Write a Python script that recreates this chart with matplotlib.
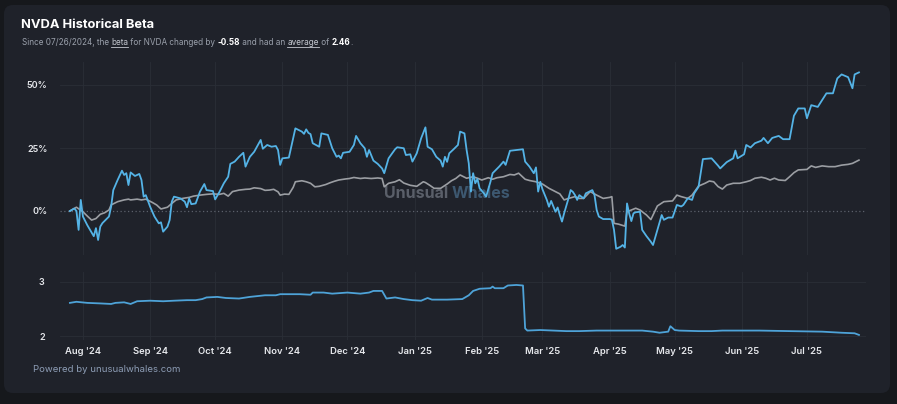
import matplotlib
matplotlib.use("Agg")
import matplotlib.pyplot as plt
import matplotlib.dates as mdates
import pandas as pd
from matplotlib.patches import FancyBboxPatch

# ---------------- data ----------------
START = "2024-07-26"   # day offsets below are calendar days from this date

nvda_day = [0, 2, 3, 4, 5, 6, 8, 11, 12, 13, 14, 15, 18, 19, 20, 22, 24, 25, 26, 27,
            28, 30, 32, 33, 34, 35, 37, 39, 41, 42, 43, 45, 46, 47, 48, 51, 53, 54, 55, 56,
            58, 60, 62, 63, 66, 67, 69, 71, 73, 74, 76, 78, 80, 81, 83, 85, 88, 89, 91, 93,
            95, 96, 97, 98, 101, 104, 107, 108, 109, 110, 111, 112, 115, 116, 117, 119, 121, 123, 124, 125,
            126, 129, 131, 132, 134, 136, 137, 138, 140, 142, 144, 145, 147, 150, 151, 154, 155, 157, 158, 160,
            162, 164, 165, 167, 169, 171, 172, 173, 174, 175, 177, 179, 180, 182, 183, 184, 185, 186, 187, 188,
            189, 191, 192, 194, 195, 198, 200, 201, 203, 206, 209, 210, 212, 214, 215, 216, 217, 218, 220, 221,
            222, 224, 225, 226, 227, 228, 230, 231, 232, 233, 234, 235, 237, 238, 241, 242, 243, 244, 246, 249,
            250, 251, 252, 254, 255, 256, 257, 258, 259, 260, 261, 263, 264, 266, 268, 269, 271, 273, 274, 276,
            278, 280, 282, 283, 285, 287, 288, 290, 292, 296, 299, 300, 303, 306, 307, 308, 311, 312, 314, 316,
            319, 320, 322, 324, 327, 329, 332, 334, 336, 339, 340, 342, 345, 349, 352, 354, 356, 359, 361, 362,
            364]
nvda_ret = [0, 1.0, 0, -7.5, 4.4, -2.2, -5.6, -10, -6.8, -11.5, -6.2, -4.8, -2.2, 1.7, 8.3, 12.3, 16, 14.3, 15, 10.3,
            15.3, 13.9, 14.7, 12.3, 5.7, 6.3, 1.7, -2.2, -4.9, -4.5, -8.2, -6.2, -3.6, 3.7, 5.7, 5, 3.7, 1.5, 5, 2.7,
            3, 7.7, 10.7, 8.3, 7.9, 4.6, 7.6, 11, 13.6, 18.7, 19.6, 21.5, 23.1, 17.6, 21.5, 23.5, 28.2, 24.7, 26.2, 25.5,
            25.8, 24.2, 18.3, 20.9, 21.2, 32.8, 31.5, 30.6, 32.4, 31, 30.5, 26.9, 25.5, 30.8, 30.6, 30.2, 24.9, 21.5, 22, 20.9,
            23.1, 23.5, 26.2, 29.8, 26.9, 24.9, 21.5, 24.2, 20, 18.7, 16.9, 15, 20.9, 24.5, 25.3, 24.9, 22.2, 22.5, 19.6, 22.9,
            28.8, 33.2, 25.5, 24.5, 21.5, 20, 17.6, 21.5, 19.5, 22.9, 24.5, 26.2, 31.5, 30.8, 24.2, 18.9, 7.7, 15, 11, 12.7,
            9, 7, 5.7, 11.6, 15, 17.6, 19.6, 18.3, 23.9, 24.2, 24.5, 19.6, 17.6, 15, 17.3, 7.7, 11.6, 8.6, 4.4, 1.7,
            4, -0.3, 1.4, -1.6, -4.2, -0.9, 5, 8.3, 7.6, 6.3, 4.4, 6.3, 5, 7, 8.3, 6.3, 0.4, -2.2, -3.2, -3.2,
            -3.4, -7.5, -15, -14.2, -13.5, -14.5, 3, -1, -4, -0.9, -0.5, -0.3, -7.5, -10, -12.2, -13.5, -7.5, -1.6, -3.5, -2.6,
            -2.6, 2.4, 1.8, 2.4, 5, 4.4, 7, 9.6, 20.6, 20.9, 18, 16.9, 19.4, 20.9, 24, 20.9, 22.5, 26.2, 25.2, 26.9,
            27.9, 29, 26.9, 29, 29.8, 28.5, 28.5, 37.8, 40.7, 40.7, 36.8, 42, 41.3, 46.7, 46.7, 52.6, 54.2, 53.1, 48.7, 54.2,
            55]

spy_day = [0, 3, 6, 8, 10, 12, 14, 16, 18, 19, 22, 25, 27, 28, 31, 33, 35, 38, 40, 42,
           45, 47, 49, 52, 55, 57, 60, 63, 66, 69, 71, 73, 75, 78, 81, 83, 85, 88, 90, 92,
           94, 96, 97, 99, 101, 103, 104, 107, 109, 111, 113, 115, 118, 120, 122, 124, 127, 129, 131, 134,
           136, 139, 142, 144, 145, 147, 150, 152, 154, 157, 160, 163, 164, 166, 168, 171, 174, 176, 178, 180,
           183, 186, 188, 190, 193, 195, 197, 200, 203, 205, 207, 210, 212, 215, 218, 221, 224, 226, 228, 230,
           233, 235, 237, 240, 243, 246, 249, 250, 251, 253, 256, 257, 259, 261, 263, 266, 268, 271, 274, 278,
           280, 282, 285, 287, 290, 293, 295, 297, 299, 301, 303, 306, 309, 312, 314, 316, 319, 321, 323, 325,
           327, 330, 332, 334, 336, 340, 342, 344, 347, 350, 353, 356, 359, 361, 364]
spy_ret = [0, 1.5, -0.3, -2, -3.6, -3, -1.3, -0.7, 0.4, 2.4, 3.7, 4.4, 4.7, 4.4, 4.7, 4.4, 4.7, 3.4, 2.4, 0.8,
           1.5, 3, 4.4, 5, 5.4, 5.9, 6.3, 6.6, 6.8, 6.6, 7, 5.9, 7.7, 8.3, 8.6, 8.7, 9.2, 8.9, 8.2, 8.3,
           8.6, 7.6, 6.3, 6.7, 6.6, 9.4, 11.6, 12, 11.6, 11, 9.6, 9.8, 10.5, 11.2, 11.8, 12.3, 12.7, 12.9, 13.3, 12.9,
           13.1, 12.9, 13.1, 12.9, 9.6, 11, 11.6, 12.4, 11.1, 10.2, 9.8, 11.6, 11.3, 10.2, 9, 9, 10.7, 12, 12.9, 14.3,
           13, 13.6, 13, 12.3, 13.2, 12.6, 13.2, 13.6, 14.5, 14.3, 15, 12.6, 12.1, 11.6, 10.7, 9, 7.7, 6.8, 4.4, 5,
           5.7, 5, 5, 7.7, 6.3, 5, 5.4, 5.7, -4.9, -5.2, -6, -0.3, 0.4, 1.1, 0.4, -1.6, -3.4, 2, 3.7, 4,
           6.3, 5.7, 5, 6.3, 9.9, 11, 11.9, 11.6, 9.7, 8.7, 10.3, 11, 11, 11.6, 12.1, 13, 13.4, 13, 12.3, 13,
           12.3, 12.1, 13.6, 15.2, 16.3, 16.5, 17.9, 17.3, 17.9, 17.6, 17.6, 18.2, 18.5, 18.9, 20.2]

beta_day = [0, 3, 8, 14, 19, 21, 25, 28, 31, 37, 43, 48, 54, 58, 61, 63, 68, 72, 78, 83,
            90, 95, 97, 106, 111, 112, 117, 121, 128, 134, 138, 140, 144, 146, 150, 154, 158, 162, 165, 167,
            174, 181, 184, 186, 189, 194, 195, 196, 200, 202, 206, 209, 210, 211, 217, 223, 229, 235, 243, 250,
            258, 264, 269, 272, 276, 277, 279, 281, 290, 296, 301, 312, 318, 332, 347, 356, 362, 364]
beta_val = [2.61, 2.63, 2.61, 2.60, 2.59, 2.61, 2.62, 2.59, 2.64, 2.65, 2.64, 2.65, 2.66, 2.66, 2.68, 2.71, 2.72, 2.70, 2.69, 2.72,
            2.75, 2.75, 2.77, 2.77, 2.76, 2.80, 2.80, 2.78, 2.80, 2.78, 2.80, 2.83, 2.83, 2.69, 2.71, 2.68, 2.66, 2.65, 2.70, 2.67,
            2.67, 2.68, 2.75, 2.83, 2.87, 2.88, 2.91, 2.88, 2.88, 2.93, 2.94, 2.93, 2.14, 2.10, 2.11, 2.10, 2.09, 2.09, 2.10, 2.10,
            2.10, 2.10, 2.08, 2.06, 2.08, 2.18, 2.11, 2.10, 2.09, 2.09, 2.10, 2.10, 2.10, 2.09, 2.08, 2.06, 2.05, 2.02]

month_ticks = ["2024-08-01", "2024-09-01", "2024-10-01", "2024-11-01", "2024-12-01", "2025-01-01",
               "2025-02-01", "2025-03-01", "2025-04-01", "2025-05-01", "2025-06-01", "2025-07-01"]
month_labels = ["Aug '24", "Sep '24", "Oct '24", "Nov '24", "Dec '24", "Jan '25",
                "Feb '25", "Mar '25", "Apr '25", "May '25", "Jun '25", "Jul '25"]
ret_ticks = [0, 25, 50]
ret_labels = ["0%", "25%", "50%"]
beta_ticks = [2, 3]
beta_labels = ["2", "3"]

title = "NVDA Historical Beta"
ticker = "NVDA"
start_label = "07/26/2024"
beta_change = "-0.58"
beta_avg = "2.46"
footer = "Powered by unusualwhales.com"

# ---------------- styling ----------------
W, H = 897, 404
OUTER = "#16181c"
CARD = "#1f222a"
GRID = "#2a2e37"
BLUE = "#54b3e6"
BETA_BLUE = "#4ea3d8"
GRAY = "#9b9ea3"
TICK = "#e6e8ec"
FONT = ["Inter", "DejaVu Sans"]

plt.rcParams["font.family"] = FONT

start = pd.Timestamp(START)
nvda_x = [start + pd.Timedelta(days=d) for d in nvda_day]
spy_x = [start + pd.Timedelta(days=d) for d in spy_day]
beta_x = [start + pd.Timedelta(days=d) for d in beta_day]
mt = pd.to_datetime(month_ticks)

fig = plt.figure(figsize=(W / 100, H / 100), dpi=100)
fig.patch.set_facecolor(OUTER)

bg = fig.add_axes([0, 0, 1, 1])
bg.set_xlim(0, W)
bg.set_ylim(H, 0)
bg.axis("off")
bg.set_zorder(0)
bg.add_patch(FancyBboxPatch((4, 5), 886, 388, boxstyle="round,pad=0,rounding_size=9",
                            facecolor=CARD, edgecolor="none"))

xl = (mdates.date2num(pd.Timestamp("2024-07-21 10:00")), mdates.date2num(pd.Timestamp("2025-07-28 06:00")))

def frac(px_left, px_top, px_right, px_bottom):
    return [px_left / W, 1 - px_bottom / H, (px_right - px_left) / W, (px_bottom - px_top) / H]

ax = fig.add_axes(frac(60, 62, 866, 255))
axb = fig.add_axes(frac(60, 272, 866, 340), sharex=ax)
for a in (ax, axb):
    a.set_facecolor("none")
    a.set_zorder(2)
    for s in a.spines.values():
        s.set_visible(False)
    a.tick_params(length=0)
    for m in mt:
        a.axvline(m, color=GRID, lw=0.6, zorder=0)

# --- returns chart
ax.set_xlim(*xl)
ax.set_ylim((211 - 255) / 2.52, (211 - 62) / 2.52)
for v in ret_ticks[1:]:
    ax.axhline(v, color=GRID, lw=0.6, zorder=0)
ax.axhline(0, color="#5c616b", lw=0.9, ls=(0, (1, 2)), zorder=1)
ax.plot(spy_x, spy_ret, color=GRAY, lw=1.2, zorder=3)
ax.plot(nvda_x, nvda_ret, color=BLUE, lw=1.3, zorder=4)
ax.set_yticks(ret_ticks)
ax.set_yticklabels(ret_labels)
ax.tick_params(axis="y", colors=TICK, labelsize=6.5, pad=9)
ax.tick_params(axis="x", labelbottom=False)
for t in ax.get_yticklabels():
    t.set_fontweight("semibold")

# --- beta chart
axb.set_ylim(2 + (336 - 340) / 54.3, 2 + (336 - 272) / 54.3)
for v in beta_ticks:
    axb.axhline(v, color=GRID, lw=0.6, zorder=0)
axb.plot(beta_x, beta_val, color=BETA_BLUE, lw=1.3, zorder=4)
axb.set_yticks(beta_ticks)
axb.set_yticklabels(beta_labels)
axb.set_xticks(mt)
axb.set_xticklabels(month_labels)
axb.tick_params(axis="y", colors=TICK, labelsize=6.5, pad=11)
axb.tick_params(axis="x", colors=TICK, labelsize=6.8, pad=5)
for t in axb.get_yticklabels() + axb.get_xticklabels():
    t.set_fontweight("semibold")

# --- watermark
bg.text(448, 194, "Unusual", ha="right", va="center", fontsize=11.5, fontweight="bold",
        color="#5a5f69", zorder=1)
bg.text(452, 194, "Whales", ha="left", va="center", fontsize=11.5, fontweight="bold",
        color="#3d5870", zorder=1)

# --- title, subtitle, footer
bg.text(21, 24.5, title, ha="left", va="center", fontsize=9.3, fontweight="bold", color="#ffffff")

r = fig.canvas.get_renderer()
SUB = "#9aa0ab"
parts = [
    ("Since %s, the " % start_label, SUB, "normal", False),
    ("beta", "#c4c8d0", "normal", True),
    (" for %s changed by " % ticker, SUB, "normal", False),
    (beta_change, "#ffffff", "bold", False),
    (" and had an ", SUB, "normal", False),
    ("average", "#c4c8d0", "normal", True),
    (" of ", SUB, "normal", False),
    (beta_avg, "#ffffff", "bold", False),
    (".", SUB, "normal", False),
]
xp = 21.5
for txt, col, wt, ul in parts:
    t = bg.text(xp, 42.5, txt, ha="left", va="center", fontsize=5.9, fontweight=wt, color=col)
    w = t.get_window_extent(renderer=r).width
    if ul:
        bg.plot([xp, xp + w], [46.5, 46.5], color=col, lw=0.6)
    xp += w

bg.text(33, 369, footer, ha="left", va="center", fontsize=6.9, color="#8d9db5")

fig.savefig("out.png", dpi=100, facecolor=OUTER)
